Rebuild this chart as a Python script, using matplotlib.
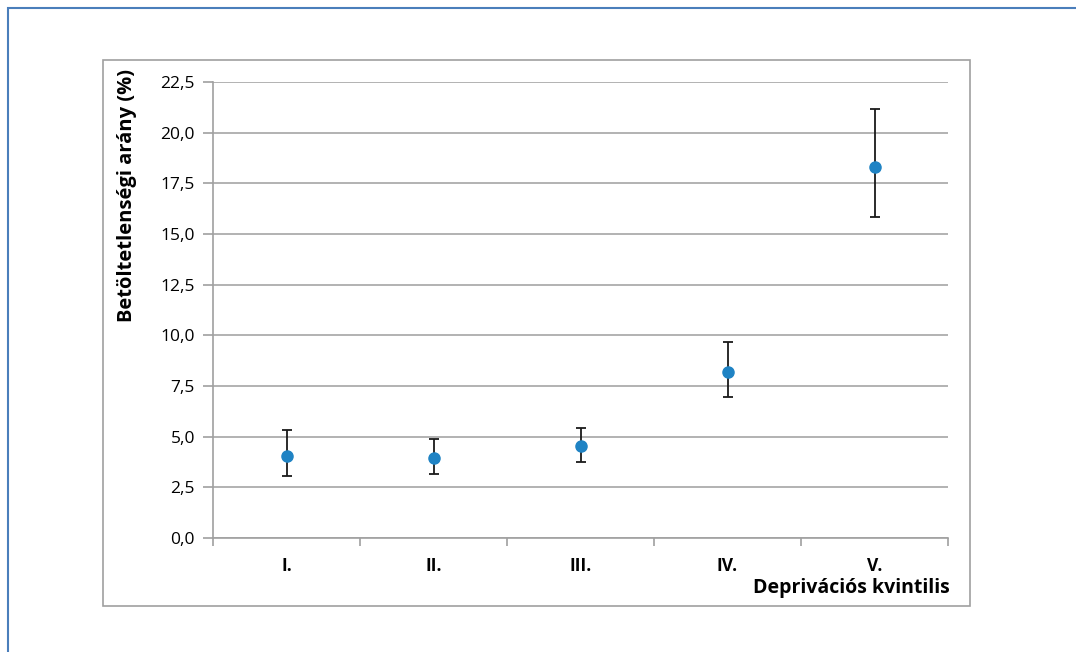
import matplotlib.pyplot as plt
from matplotlib.patches import Rectangle
from matplotlib.ticker import FixedLocator, FuncFormatter, MultipleLocator

categories = ['I.', 'II.', 'III.', 'IV.', 'V.']
rates = [4.07, 3.95, 4.52, 8.2, 18.3]
ci_low = [3.06, 3.17, 3.76, 6.96, 15.83]
ci_high = [5.31, 4.87, 5.41, 9.68, 21.17]

W, H = 1076, 652
plt.rcParams['font.family'] = ['Open Sans', 'DejaVu Sans']

fig = plt.figure(figsize=(W / 100, H / 100), dpi=100)

# outer blue frame (only left/top visible) and inner gray chart frame
fig.patches.append(Rectangle((8 / W, -0.1), 1.2, (H - 8) / H + 0.1,
                             transform=fig.transFigure, fill=False,
                             edgecolor='#4a7ebb', linewidth=1.5))
fig.patches.append(Rectangle((103 / W, 1 - 606 / H), (970 - 103) / W, (606 - 60) / H,
                             transform=fig.transFigure, fill=False,
                             edgecolor='#a0a0a0', linewidth=1.2))

ax = fig.add_axes([213 / W, 1 - 538 / H, (948 - 213) / W, (538 - 82) / H])

x = list(range(len(categories)))
yerr = [[r - lo for r, lo in zip(rates, ci_low)],
        [hi - r for r, hi in zip(rates, ci_high)]]
ax.errorbar(x, rates, yerr=yerr, fmt='o', color='#1f83c4', markersize=8,
            ecolor='#1a1a1a', elinewidth=1.3, capsize=3.8, capthick=1.3, zorder=3)

ax.set_xlim(-0.5, 4.5)
ax.set_ylim(0, 22.5)
ax.yaxis.set_major_locator(MultipleLocator(2.5))
ax.yaxis.set_major_formatter(FuncFormatter(lambda v, p: f'{v:.1f}'.replace('.', ',')))
ax.grid(axis='y', color='#a6a6a6', linewidth=1.2)
ax.set_axisbelow(True)

ax.set_xticks(x)
ax.set_xticklabels(categories, fontweight='bold', fontsize=12.5)
ax.tick_params(axis='x', length=0, pad=14)
ax.xaxis.set_minor_locator(FixedLocator([-0.5, 0.5, 1.5, 2.5, 3.5, 4.5]))
ax.tick_params(axis='x', which='minor', length=6, color='#a0a0a0', width=1.2)
ax.tick_params(axis='y', length=7, color='#a0a0a0', width=1.2, labelsize=12.5, pad=6)

for side in ['top', 'right']:
    ax.spines[side].set_visible(False)
for side in ['left', 'bottom']:
    ax.spines[side].set_color('#a0a0a0')
    ax.spines[side].set_linewidth(1.2)

fig.text(127 / W, 1 - 196 / H, 'Betöltetlenségi arány (%)', rotation=90,
         ha='center', va='center', fontsize=14.5, fontweight='bold')
fig.text(950 / W, 1 - 588 / H, 'Deprivációs kvintilis', ha='right', va='center',
         fontsize=14, fontweight='bold')

fig.savefig('out.png', dpi=100)
